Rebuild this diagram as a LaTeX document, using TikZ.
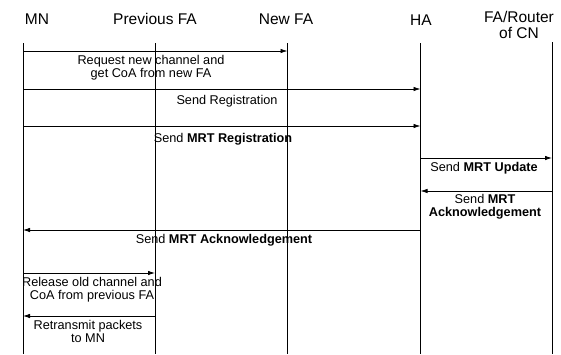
\documentclass[tikz,border=0pt]{standalone}
\usepackage{fontspec}
\setmainfont{Liberation Sans}
\usetikzlibrary{arrows.meta}
\begin{document}
\begin{tikzpicture}[x=1pt,y=-1pt,
  header/.style={font=\fontsize{15.5}{16}\selectfont, align=center, inner sep=0pt},
  lifeline/.style={line width=0.9pt},
  msg/.style={line width=0.8pt, -{Latex[length=7pt,width=4.5pt]}},
  lbl/.style={font=\fontsize{12.7}{12.6}\selectfont, align=center, inner sep=0pt}]
  \useasboundingbox (0,0) rectangle (561,354);

  % participants
  \node[header] (hMN)  at (37,19)  {MN};
  \node[header] (hPFA) at (155,19) {Previous FA};
  \node[header] (hNFA) at (286,19) {New FA};
  \node[header] (hHA)  at (421,20) {HA};
  \node[header] (hCN)  at (519,25) {FA/Router\\of CN};

  % lifelines
  \coordinate (mn)  at (23,43);
  \coordinate (pfa) at (155,43);
  \coordinate (nfa) at (287.5,43);
  \coordinate (ha)  at (420.5,43);
  \coordinate (cn)  at (552,42);
  \coordinate (bottom) at (0,354);
  \foreach \p in {mn,pfa,nfa,ha,cn}
    \draw[lifeline] (\p) -- (\p |- bottom);

  % message rows
  \coordinate (m1) at (0,51);
  \coordinate (m2) at (0,89);
  \coordinate (m3) at (0,126);
  \coordinate (m4) at (0,158);
  \coordinate (m5) at (0,191);
  \coordinate (m6) at (0,230);
  \coordinate (m7) at (0,273);
  \coordinate (m8) at (0,316);

  \draw[msg] (mn |- m1) -- (nfa |- m1);
  \node[lbl] (t1) at (151,68) {Request new channel and\\get CoA from new FA};

  \draw[msg] (mn |- m2) -- (ha |- m2);
  \node[lbl] (t2) at (227,101) {Send Registration};

  \draw[msg] (mn |- m3) -- (ha |- m3);
  \node[lbl] (t3) at (223,139) {Send \textbf{MRT Registration}};

  \draw[msg] (ha |- m4) -- (cn |- m4);
  \node[lbl] (t4) at (484,168) {Send \textbf{MRT Update}};

  \draw[msg] (cn |- m5) -- (ha |- m5);
  \node[lbl] (t5) at (485,207) {Send \textbf{MRT}\\\textbf{Acknowledgement}};

  \draw[msg] (ha |- m6) -- (mn |- m6);
  \node[lbl] (t6) at (224,240) {Send \textbf{MRT Acknowledgement}};

  \draw[msg] (mn |- m7) -- (pfa |- m7);
  \node[lbl] (t7) at (92,289.5) {Release old channel and\\CoA from previous FA};

  \draw[msg] (pfa |- m8) -- (mn |- m8);
  \node[lbl] (t8) at (88,331.5) {Retransmit packets\\to MN};
\end{tikzpicture}
\end{document}
